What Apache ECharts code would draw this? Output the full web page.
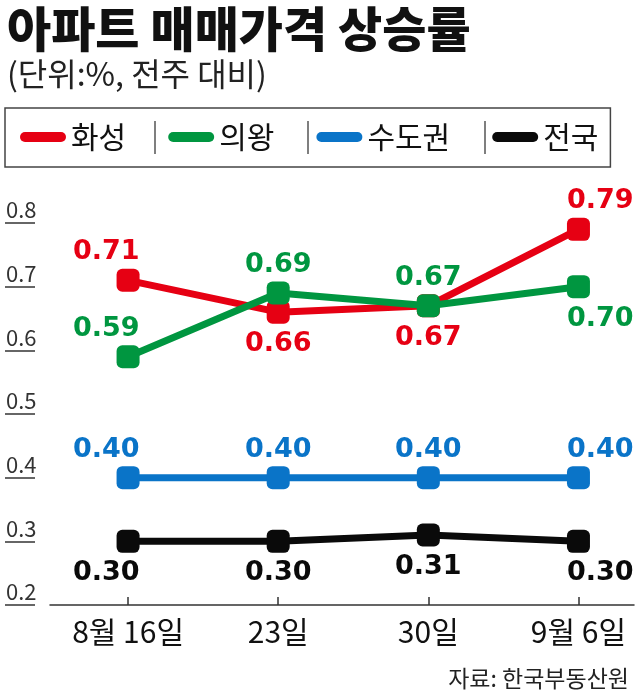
<!DOCTYPE html>
<html>
<head>
<meta charset="utf-8">
<script src="https://cdn.jsdelivr.net/npm/echarts@6/dist/echarts.min.js"></script>
<style>html,body{margin:0;padding:0;background:#fff;}#c{width:640px;height:700px;}</style>
</head>
<body>
<div id="c"></div>
<script>
const categories = ['8월 16일', '23일', '30일', '9월 6일'];
const seriesNames = ['화성', '의왕', '수도권', '전국'];
const hwaseong = [0.71, 0.66, 0.67, 0.79];
const uiwang = [0.59, 0.69, 0.67, 0.70];
const sudogwon = [0.40, 0.40, 0.40, 0.40];
const jeonguk = [0.30, 0.30, 0.31, 0.30];
const yMin = 0.2, yMax = 0.8, yStep = 0.1;

const colors = ['#e60013', '#009640', '#0a74c8', '#0a0a0a'];
const labelPlacement = [
  ['top', 'bottom', 'bottom', 'top'],
  ['top', 'top', 'top', 'bottom'],
  ['top', 'top', 'top', 'top'],
  ['bottom', 'bottom', 'bottom', 'bottom']
];
const values = [hwaseong, uiwang, sudogwon, jeonguk];
const KR = "'Noto Sans CJK KR', 'Noto Sans', sans-serif";
const legendIcon = 'path://M5,0 L41,0 A5,5 0 0 1 41,10 L5,10 A5,5 0 0 1 5,0 Z';
const symSize = 23;

function pointLabel(pos, i, n) {
  const lab = {position: pos, distance: pos === 'top' ? 3 : 7};
  if (i === 0) { lab.align = 'right'; lab.offset = [symSize / 2, 0]; }
  else if (i === n - 1) { lab.align = 'left'; lab.offset = [-symSize / 2, 0]; }
  return lab;
}

const chart = echarts.init(document.getElementById('c'), null, {renderer: 'canvas'});
const option = {
  backgroundColor: '#fff',
  animation: false,
  title: [{
    text: '아파트 매매가격 상승률',
    subtext: '(단위:%, 전주 대비)',
    left: 2, top: 0, itemGap: 5,
    textStyle: {fontFamily: KR, fontSize: 48, fontWeight: 900, color: '#111'},
    subtextStyle: {fontFamily: KR, fontSize: 32, fontWeight: 'normal', color: '#222'}
  }, {
    text: '자료: 한국부동산원',
    right: 6, bottom: 5,
    textStyle: {fontFamily: KR, fontSize: 23, fontWeight: 'normal', color: '#222'}
  }],
  legend: {
    data: seriesNames.map(n => ({name: n, icon: legendIcon})),
    left: 5, top: 108,
    itemWidth: 46, itemHeight: 10, itemGap: 42,
    padding: [14, 12, 15, 15],
    borderColor: '#444', borderWidth: 1.5,
    textStyle: {fontFamily: KR, fontSize: 30, color: '#111'}
  },
  graphic: [155, 308, 485].map(x => ({
    type: 'line', shape: {x1: x, y1: 121, x2: x, y2: 154},
    style: {stroke: '#555', lineWidth: 1.5}
  })),
  grid: [
    {left: 50, right: 6, top: 223, bottom: 95},
    {left: 5, width: 30, top: 223, bottom: 95}
  ],
  xAxis: [{
    type: 'value', min: -0.52, max: 3.37, gridIndex: 0,
    splitLine: {show: false},
    axisLine: {show: true, lineStyle: {color: '#333', width: 1.5}},
    axisTick: {show: true, inside: true, length: 8, lineStyle: {color: '#333', width: 1.5},
      customValues: categories.map((c, i) => i)},
    axisLabel: {
      customValues: categories.map((c, i) => i),
      formatter: v => categories[Math.round(v)],
      fontFamily: KR, fontSize: 30, color: '#111', margin: 12
    }
  }, {
    type: 'value', gridIndex: 1, show: false
  }],
  yAxis: [{
    type: 'value', gridIndex: 0, min: yMin, max: yMax, interval: yStep, show: false
  }, {
    type: 'value', gridIndex: 1, min: yMin, max: yMax, interval: yStep,
    axisLine: {show: false},
    axisTick: {show: false},
    splitLine: {show: true, lineStyle: {color: '#333', width: 1.5}},
    axisLabel: {
      inside: true, margin: 0, align: 'left', verticalAlign: 'bottom',
      padding: [0, 0, 2, 1],
      formatter: v => v.toFixed(1),
      fontFamily: KR, fontSize: 22, color: '#333'
    }
  }],
  series: seriesNames.map((name, s) => ({
    name: name,
    type: 'line',
    xAxisIndex: 0, yAxisIndex: 0,
    symbol: 'roundRect',
    symbolSize: symSize,
    itemStyle: {color: colors[s]},
    lineStyle: {color: colors[s], width: 7},
    data: values[s].map((v, i) => ({
      value: [i, v],
      label: pointLabel(labelPlacement[s][i], i, values[s].length)
    })),
    label: {
      show: true,
      formatter: p => p.value[1].toFixed(2),
      fontFamily: "'DejaVu Sans', sans-serif", fontWeight: 'bold', fontSize: 27,
      color: colors[s]
    },
    z: 2 + s
  }))
};
chart.setOption(option);
</script>
</body>
</html>
